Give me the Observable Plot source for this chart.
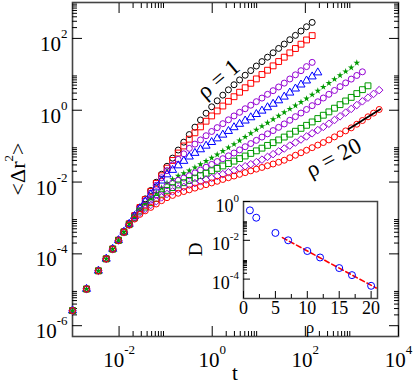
<!DOCTYPE html>
<html><head><meta charset="utf-8">
<script src="https://cdn.jsdelivr.net/npm/d3@7"></script>
<script src="https://cdn.jsdelivr.net/npm/@observablehq/plot@0.6"></script>
<style>
body{margin:0;background:#fff;}
#wrap{position:relative;width:415px;height:386px;font-family:'Liberation Serif','Times New Roman','DejaVu Serif',serif;}
#wrap svg{position:absolute;left:0;top:0;}
#wrap svg text{font-family:'Liberation Serif','Times New Roman','DejaVu Serif',serif !important;}
</style></head><body><div id="wrap"></div>
<script>
// ---------- data ----------
const t = [0.001,0.002,0.0036,0.0053,0.0073,0.0097,0.0127,0.0165,0.0215,0.028,0.0365,0.048,0.063,0.082,0.107,0.141,0.186,0.245,0.322,0.425,0.56,0.738,0.973,1.28,1.69,2.23,2.94,3.87,5.1,6.73,8.87,11.7,15.4,20.3,26.7,35.2,46.4,61.2,80.6,106,140,185,243,320,422,556,733,966,1273,1678,2212,2915,3843];
const rhoValues = [1,2,5,7,10,12,15,17,20];
const msdRho1 = [2.63e-6,1.05e-5,3.40e-5,7.36e-5,1.39e-4,2.45e-4,4.20e-4,7.06e-4,1.19e-3,2.01e-3,3.40e-3,5.82e-3,9.89e-3,0.0165,0.0275,0.0464,0.0778,0.129,0.210,0.338,0.534,0.825,1.245,1.83,2.63,3.70,5.12,6.98,9.44,12.7,17.0,22.6,30.0,39.8,52.6,69.6,92.0,121.6,160.4,211,279];
const msdRho2 = [2.63e-6,1.05e-5,3.38e-5,7.30e-5,1.38e-4,2.42e-4,4.13e-4,6.91e-4,1.16e-3,1.95e-3,3.25e-3,5.50e-3,9.20e-3,0.0150,0.0244,0.0399,0.0643,0.101,0.156,0.235,0.344,0.494,0.694,0.956,1.31,1.77,2.38,3.17,4.23,5.62,7.45,9.88,13.0,17.2,22.7,30.0,39.6,52.3,68.9,90.6,119.7];
const msdRho5 = [2.63e-6,1.05e-5,3.38e-5,7.30e-5,1.37e-4,2.40e-4,4.10e-4,6.85e-4,1.14e-3,1.86e-3,2.98e-3,4.93e-3,8.13e-3,0.0132,0.0208,0.0298,0.0428,0.0611,0.0867,0.114,0.149,0.195,0.256,0.328,0.422,0.541,0.693,0.875,1.10,1.38,1.73,2.18,2.77,3.50,4.44,5.69,7.41,9.68,12.6,16.4,21.5];
const msdRho7 = [2.63e-6,1.05e-5,3.38e-5,7.28e-5,1.37e-4,2.39e-4,4.08e-4,6.80e-4,1.12e-3,1.82e-3,2.84e-3,4.47e-3,7.02e-3,0.0109,0.0162,0.0216,0.0289,0.0385,0.0509,0.0643,0.0809,0.102,0.129,0.163,0.207,0.262,0.333,0.414,0.511,0.630,0.776,0.964,1.20,1.50,1.87,2.37,3.07,3.98,5.15,6.66,8.65,11.2];
const msdRho10 = [2.63e-6,1.05e-5,3.37e-5,7.26e-5,1.36e-4,2.38e-4,4.05e-4,6.70e-4,1.09e-3,1.70e-3,2.45e-3,3.48e-3,4.93e-3,6.92e-3,9.42e-3,0.0119,0.0149,0.0175,0.0207,0.0254,0.0312,0.0382,0.0469,0.0583,0.0728,0.0908,0.113,0.143,0.180,0.227,0.286,0.358,0.447,0.557,0.695,0.867,1.08,1.35,1.68,2.10,2.70,3.47,4.44,5.68,7.29,9.34,12.0,15.4,20.9];
const msdRho12 = [2.63e-6,1.05e-5,3.37e-5,7.25e-5,1.36e-4,2.37e-4,4.03e-4,6.60e-4,1.05e-3,1.62e-3,2.26e-3,3.14e-3,4.36e-3,5.98e-3,7.92e-3,9.44e-3,0.0112,0.0129,0.0150,0.0180,0.0216,0.0259,0.0310,0.0372,0.0447,0.0537,0.0644,0.0785,0.0964,0.118,0.145,0.179,0.220,0.271,0.334,0.416,0.525,0.662,0.834,1.05,1.34,1.72,2.19,2.78,3.55,4.53,5.77,7.36,9.29,11.75];
const msdRho15 = [2.63e-6,1.05e-5,3.37e-5,7.24e-5,1.35e-4,2.36e-4,4.01e-4,6.50e-4,1.01e-3,1.55e-3,2.01e-3,2.66e-3,3.51e-3,4.59e-3,5.87e-3,7.00e-3,8.32e-3,9.60e-3,0.0111,0.0129,0.0151,0.0176,0.0206,0.0240,0.0281,0.0327,0.0382,0.0450,0.0531,0.0627,0.0740,0.0878,0.105,0.125,0.149,0.179,0.216,0.260,0.313,0.380,0.472,0.586,0.726,0.900,1.14,1.43,1.81,2.28,2.91,3.74,4.79];
const msdRho17 = [2.63e-6,1.05e-5,3.37e-5,7.23e-5,1.35e-4,2.35e-4,3.99e-4,6.46e-4,9.77e-4,1.41e-3,1.80e-3,2.31e-3,2.94e-3,3.74e-3,4.65e-3,5.49e-3,6.45e-3,7.35e-3,8.38e-3,9.36e-3,0.0105,0.0117,0.0130,0.0147,0.0166,0.0188,0.0212,0.0241,0.0275,0.0314,0.0359,0.0420,0.0502,0.0598,0.0713,0.0857,0.104,0.126,0.153,0.186,0.228,0.280,0.343,0.421,0.534,0.677,0.859,1.09,1.39,1.77,2.24,2.85,3.63];
const msdRho20 = [2.63e-6,1.05e-5,3.36e-5,7.22e-5,1.34e-4,2.34e-4,3.98e-4,6.31e-4,9.33e-4,1.26e-3,1.58e-3,1.97e-3,2.45e-3,3.03e-3,3.67e-3,4.24e-3,4.88e-3,5.44e-3,6.07e-3,6.78e-3,7.57e-3,8.46e-3,9.45e-3,0.0105,0.0118,0.0132,0.0147,0.0164,0.0183,0.0205,0.0229,0.0255,0.0285,0.0318,0.0356,0.0405,0.0475,0.0558,0.0654,0.0767,0.0907,0.107,0.126,0.149,0.181,0.220,0.266,0.323,0.408,0.517,0.656,0.832,1.05];
const fitT = [850, 4060];
const fitMSD = [0.30, 1.07];
const annoText = ["ρ = 1", "ρ = 20"];
const annoT = [1.36, 405];
const annoMSD = [7.4, 0.048];
const annoAngle = [-40, -28];
// inset
const insetRho = [1,2,5,7,10,12,15,17,20];
const insetD = [0.35,0.146,0.024,0.010,2.8e-3,1.3e-3,3.7e-4,1.6e-4,4.5e-5];
const insetFitRho = [6.1, 20.8];
const insetFitD = [0.0138, 3.47e-5];
// ticks
const xMajor = [1e-2, 1, 1e2, 1e4];
const yMajor = [1e-6, 1e-4, 1e-2, 1, 1e2];
const minorMult = [2,3,4,5,6,7,8,9];
const insetXMajor = [0,5,10,15,20];
const insetXMinor = [2.5,7.5,12.5,17.5];
const insetYMajor = [1e-4, 1e-2, 1];
const xTitle = "t";
const yTitle = ["<Δr", "2", ">"];
const insetXTitle = "ρ";
const insetYTitle = "D";

// ---------- styling ----------
const font = "'Liberation Serif','Times New Roman','DejaVu Serif',serif";
const VIOLET = "#9400d3", GREEN = "#009a00", RED = "#ff0000", BLUE = "#0000ff";
const seriesStyle = [
  {symbol: "circle", color: "#000", r: 3},
  {symbol: "square", color: RED, r: 3.3},
  {symbol: "circle", color: VIOLET, r: 3},
  {symbol: "triangle", color: BLUE, r: 3},
  {symbol: "star", color: GREEN, r: 2.1, filled: true},
  {symbol: "circle", color: VIOLET, r: 3},
  {symbol: "square", color: GREEN, r: 3.3},
  {symbol: "diamond2", color: VIOLET, r: 3.4},
  {symbol: "circle", color: RED, r: 3}
];
const allSeries = [msdRho1, msdRho2, msdRho5, msdRho7, msdRho10, msdRho12, msdRho15, msdRho17, msdRho20];

const xMinor = xMajor.flatMap(m => minorMult.map(k => k * m)).filter(v => v > 1e-3 && v < 1e4);
const yMinor = yMajor.flatMap(m => minorMult.map(k => k * m)).filter(v => v > 5e-7 && v < 1e3);
const insetYMinor = insetYMajor.flatMap(m => minorMult.map(k => k * m)).filter(v => v > 1e-5 && v < 1);
const expFmt = d => String(Math.round(Math.log10(d)));
const blank = () => "";

const dotMarks = allSeries.map((vals, k) => {
  const s = seriesStyle[k];
  const rows = vals.map((v, i) => ({t: t[i], msd: v}));
  return Plot.dot(rows, {x: "t", y: "msd", symbol: s.symbol, r: s.r,
    stroke: s.filled ? "none" : s.color, fill: s.filled ? s.color : "none", strokeWidth: 1});
});
const fitRows = fitT.map((v, i) => ({t: v, msd: fitMSD[i]}));
const annoRows = annoText.map((s, i) => ({text: s, t: annoT[i], msd: annoMSD[i], a: annoAngle[i]}));

const main = Plot.plot({
  width: 415, height: 386,
  marginLeft: 72, marginRight: 17, marginTop: 2, marginBottom: 50,
  x: {type: "log", domain: [1e-3, 1e4]},
  y: {type: "log", domain: [5e-7, 1e3]},
  style: {background: "transparent", fontFamily: font, overflow: "visible"},
  marks: [
    Plot.frame({stroke: "#444", strokeWidth: 1.6}),
    Plot.axisX(xMajor, {anchor: "bottom", tickSize: 10, dy: -10, tickFormat: blank, label: null}),
    Plot.axisX(xMinor, {anchor: "bottom", tickSize: 5, dy: -5, tickFormat: blank, label: null}),
    Plot.axisX(xMajor, {anchor: "top", tickSize: 10, dy: 10, tickFormat: blank, label: null}),
    Plot.axisX(xMinor, {anchor: "top", tickSize: 5, dy: 5, tickFormat: blank, label: null}),
    Plot.axisY(yMajor, {anchor: "left", tickSize: 10, dx: 10, tickFormat: blank, label: null}),
    Plot.axisY(yMinor, {anchor: "left", tickSize: 5, dx: 5, tickFormat: blank, label: null}),
    Plot.axisY(yMajor, {anchor: "right", tickSize: 10, dx: -10, tickFormat: blank, label: null}),
    Plot.axisY(yMinor, {anchor: "right", tickSize: 5, dx: -5, tickFormat: blank, label: null}),
    Plot.axisX(xMajor, {anchor: "bottom", tickSize: 0, tickPadding: 0, fontSize: 21, tickFormat: expFmt, label: null}),
    Plot.axisY(yMajor, {anchor: "left", tickSize: 0, tickPadding: 5, fontSize: 21, tickFormat: expFmt, label: null}),
    ...dotMarks,
    Plot.line(fitRows, {x: "t", y: "msd", stroke: "#000", strokeWidth: 1.8}),
    Plot.text(annoRows, {x: "t", y: "msd", text: "text", rotate: "a", fontSize: 23, fill: "#000", textAnchor: "middle"})
  ]
});

const insetRows = insetRho.map((r, i) => ({rho: r, D: insetD[i]}));
const insetFitRows = insetFitRho.map((r, i) => ({rho: r, D: insetFitD[i]}));
const inset = Plot.plot({
  width: 200, height: 150,
  marginLeft: 63, marginRight: 3, marginTop: 13, marginBottom: 40,
  x: {domain: [0, 21]},
  y: {type: "log", domain: [1e-5, 1]},
  style: {background: "transparent", fontFamily: font, overflow: "visible"},
  marks: [
    Plot.frame({stroke: "#444", strokeWidth: 1.5}),
    Plot.axisX(insetXMajor, {anchor: "bottom", tickSize: 7, dy: -7, tickFormat: blank, label: null}),
    Plot.axisX(insetXMinor, {anchor: "bottom", tickSize: 4, dy: -4, tickFormat: blank, label: null}),
    Plot.axisY(insetYMajor, {anchor: "left", tickSize: 7, dx: 7, tickFormat: blank, label: null}),
    Plot.axisY(insetYMinor, {anchor: "left", tickSize: 4, dx: 4, tickFormat: blank, label: null}),
    Plot.axisX(insetXMajor, {anchor: "bottom", tickSize: 0, tickPadding: 0, fontSize: 18, tickFormat: d => String(d), label: null}),
    Plot.axisY(insetYMajor, {anchor: "left", tickSize: 0, tickPadding: 4.5, fontSize: 18, tickFormat: expFmt, label: null}),
    Plot.line(insetFitRows, {x: "rho", y: "D", stroke: RED, strokeWidth: 1.6, strokeDasharray: "5,3"}),
    Plot.dot(insetRows, {x: "rho", y: "D", r: 3.5, stroke: BLUE, fill: "none", strokeWidth: 1})
  ]
});

// ---------- text post-processing ----------
function setBaseline(el, px) {
  const y = el.getAttribute("y");
  if (y && /em$/.test(y)) el.removeAttribute("y");
  el.setAttribute("dy", px);
}
function labelTexts(svg, axis) {
  return Array.from(svg.querySelectorAll(`g[aria-label="${axis}-axis tick label"] text`)).filter(el => el.textContent !== "");
}
function supify(el, supSize, supDy) {
  const e = el.textContent;
  el.textContent = "10";
  const ts = document.createElementNS("http://www.w3.org/2000/svg", "tspan");
  ts.setAttribute("font-size", supSize);
  ts.setAttribute("dy", supDy);
  ts.textContent = e;
  el.appendChild(ts);
}
labelTexts(main, "x").forEach(el => { supify(el, 13, -13); setBaseline(el, 30.5); });
labelTexts(main, "y").forEach(el => { supify(el, 13, -13); setBaseline(el, 12.5); });
labelTexts(inset, "x").forEach(el => { setBaseline(el, 15.5); });
labelTexts(inset, "y").forEach(el => { supify(el, 11, -10); setBaseline(el, 10); });

const ms = d3.select(main);
ms.append("text").attr("x", 235).attr("y", 380).attr("text-anchor", "middle")
  .attr("font-size", 21).style("font-family", font).text(xTitle);
const yt = ms.append("text").attr("transform", "translate(25,169) rotate(-90)")
  .attr("text-anchor", "middle").attr("font-size", 22).style("font-family", font);
yt.append("tspan").text(yTitle[0]);
yt.append("tspan").attr("font-size", 13).attr("dy", -12).text(yTitle[1]);
yt.append("tspan").attr("dy", 12).text(yTitle[2]);

const is = d3.select(inset);
is.append("text").attr("x", 130).attr("y", 145).attr("text-anchor", "middle")
  .attr("font-size", 17).style("font-family", font).text(insetXTitle);
is.append("text").attr("transform", "translate(22,61.5) rotate(-90)").attr("text-anchor", "middle")
  .attr("font-size", 19).style("font-family", font).text(insetYTitle);

inset.style.left = "180px";
inset.style.top = "188px";
const wrap = document.getElementById("wrap");
wrap.appendChild(main);
wrap.appendChild(inset);
</script>
</body></html>
